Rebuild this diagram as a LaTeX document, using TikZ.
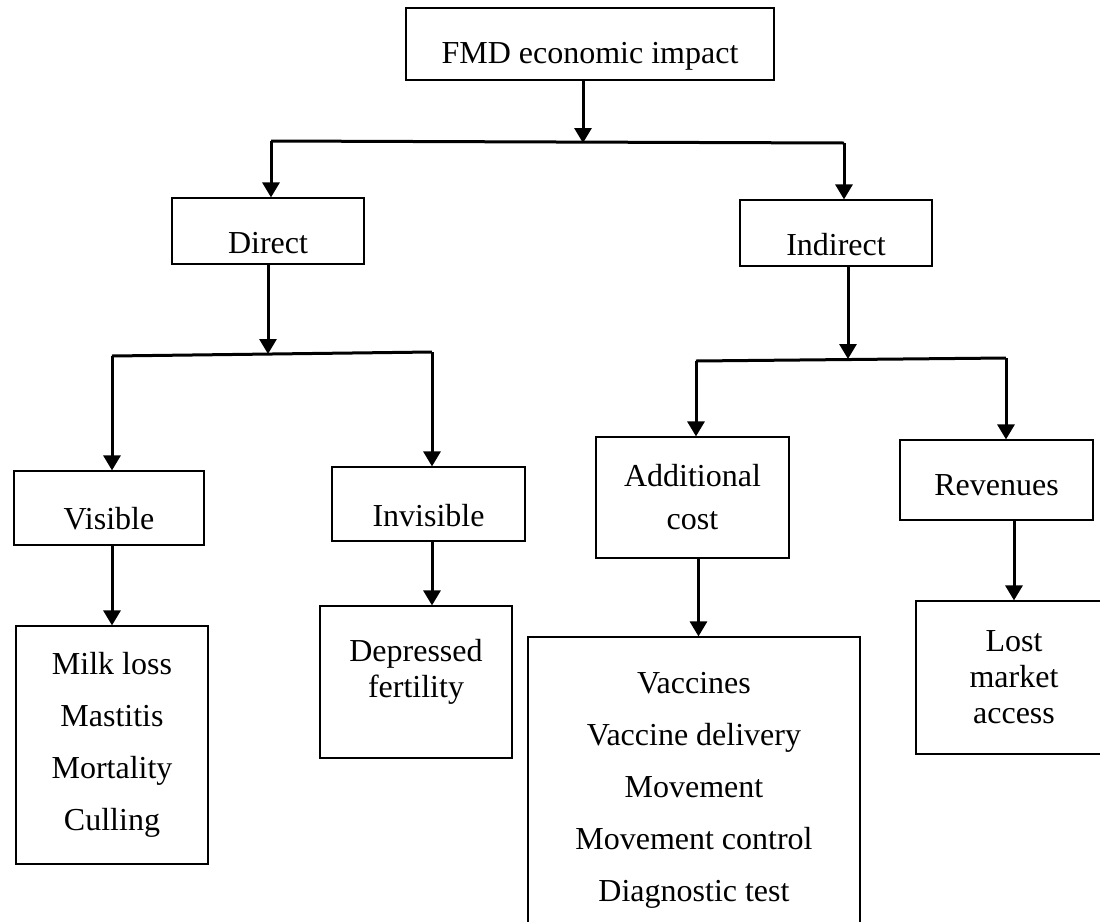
\documentclass[tikz,border=0pt]{standalone}
\usepackage{fontspec}
\setmainfont{Liberation Serif}
\usetikzlibrary{arrows.meta}

\begin{document}
\begin{tikzpicture}[x=0.5pt, y=-0.5pt, >={Triangle[length=7.5pt,width=8.5pt]},
    box/.style={draw, line width=0.6pt, align=center, inner sep=0pt,
      font=\fontsize{16pt}{18pt}\selectfont},
    raised/.style={text height=#1, text depth=0pt},
    link/.style={line width=1.5pt}]
      \path[use as bounding box, fill=white] (0, 0) rectangle (1100, 922);

      \node[box, raised=19pt, minimum width=184pt, minimum height=36pt] (impact) at (590, 44) {FMD economic impact};

      \node[box, raised=22pt, minimum width=96pt, minimum height=33pt] (direct) at (268, 231) {Direct};
      \node[box, raised=22pt, minimum width=96pt, minimum height=33pt] (indirect) at (836, 233) {Indirect};

      \node[box, raised=21pt, minimum width=95pt, minimum height=37pt] (visible) at (109, 508) {Visible};
      \node[box, raised=22pt, minimum width=96.5pt, minimum height=37pt] (invisible) at (428.5, 504) {Invisible};
      \node[box, minimum width=96.5pt, minimum height=60.5pt] (addcost) at (692.5, 497.5) {Additional\\[3.5pt]cost};
      \node[box, raised=15pt, minimum width=96.5pt, minimum height=40pt] (revenues) at (996.5, 480) {Revenues};

      \node[box, minimum width=96pt, minimum height=119pt] (milk) at (112, 745)
        {Milk loss\\[8pt]Mastitis\\[8pt]Mortality\\[8pt]Culling};
      \node[box, text depth=14pt, minimum width=96pt, minimum height=76pt] (fertility) at (416, 682) {Depressed\\fertility};
      \node[box, minimum width=166pt, minimum height=153pt] (vaccines) at (694, 790)
        {Vaccines\\[8pt]Vaccine delivery\\[8pt]Movement\\[8pt]Movement control\\[8pt]Diagnostic test};
      \node[box, minimum width=98pt, minimum height=76.5pt] (lost) at (1014, 677.5) {Lost\\market\\access};

      \coordinate (tsplit) at (583, 143);
      \coordinate (tleft) at (271, 141);
      \coordinate (tright) at (844, 143);
      \draw[link,->] (impact.south -| tsplit) -- (tsplit);
      \draw[link] (tleft) -- (tright);
      \draw[link,->] (tleft) -- (direct.north -| tleft);
      \draw[link,->] (tright) -- (indirect.north -| tright);

      \coordinate (dsplit) at (268, 354);
      \coordinate (dleft) at (112, 356);
      \coordinate (dright) at (432, 352);
      \draw[link,->] (direct.south -| dsplit) -- (dsplit);
      \draw[link] (dleft) -- (dright);
      \draw[link,->] (dleft) -- (visible.north -| dleft);
      \draw[link,->] (dright) -- (invisible.north -| dright);

      \coordinate (isplit) at (848, 359);
      \coordinate (ileft) at (696, 361);
      \coordinate (iright) at (1006, 358);
      \draw[link,->] (indirect.south -| isplit) -- (isplit);
      \draw[link] (ileft) -- (iright);
      \draw[link,->] (ileft) -- (addcost.north -| ileft);
      \draw[link,->] (iright) -- (revenues.north -| iright);

      \draw[link,->] (visible.south -| milk.north) -- (milk.north);
      \draw[link,->] (invisible.south -| dright) -- (fertility.north -| dright);
      \draw[link,->] ([xshift=3pt]addcost.south) -- ([xshift=3pt]addcost.south |- vaccines.north);
      \draw[link,->] (revenues.south -| lost.north) -- (lost.north);
    \end{tikzpicture}
\end{document}
